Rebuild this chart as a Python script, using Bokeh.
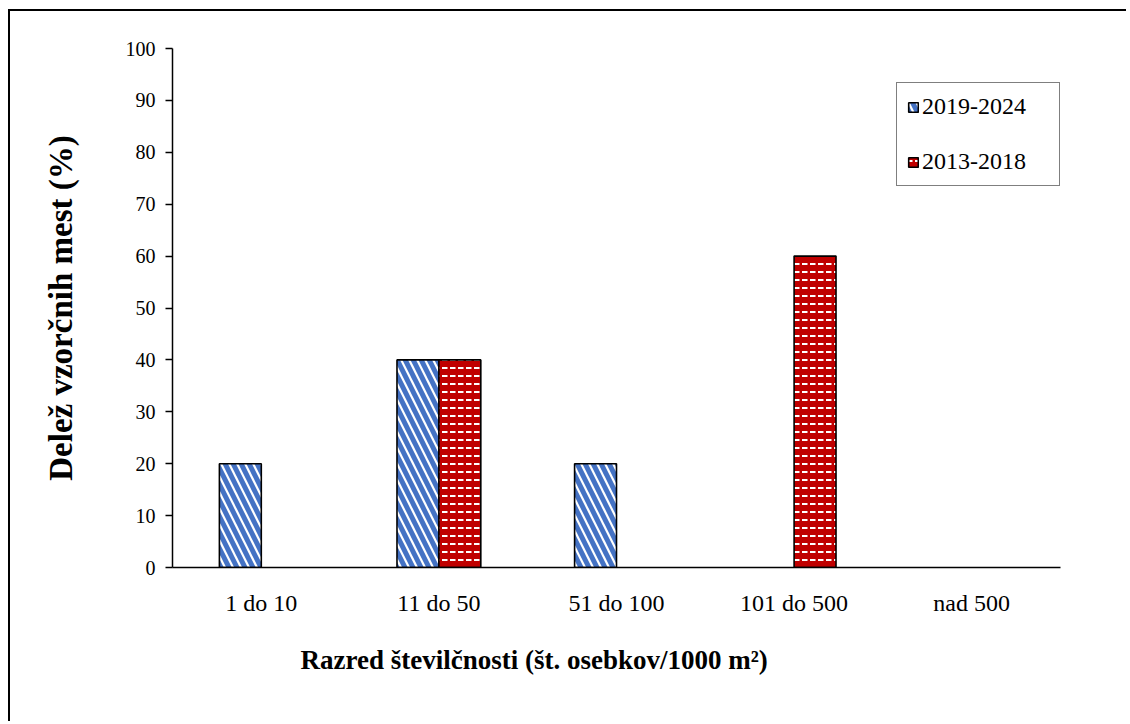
from bokeh.plotting import figure
from bokeh.models import FactorRange, ColumnDataSource, Legend, LegendItem, Title, FixedTicker
from bokeh.transform import dodge
from bokeh.embed import file_html
from bokeh.resources import INLINE

categories = ["1 do 10", "11 do 50", "51 do 100", "101 do 500", "nad 500"]
series_names = ["2019-2024", "2013-2018"]
values_2019_2024 = [20, 40, 20, 0, 0]
values_2013_2018 = [0, 40, 0, 60, 0]
y_ticks = [0, 10, 20, 30, 40, 50, 60, 70, 80, 90, 100]

FONT = "Liberation Serif"

p = figure(
    x_range=FactorRange(*categories), y_range=(0, 100),
    width=1118, height=712, output_backend="svg", toolbar_location=None,
    min_border_left=162, min_border_right=68, min_border_top=37, min_border_bottom=156,
)
p.x_range.range_padding = 0
p.outline_line_color = None
p.xgrid.grid_line_color = None
p.ygrid.grid_line_color = None
p.styles = {"margin-left": "8px", "margin-top": "9px",
            "border-left": "2px solid black", "border-top": "2px solid black"}


def nonzero(vals):
    cats = [c for c, v in zip(categories, vals) if v > 0]
    tops = [v for v in vals if v > 0]
    return ColumnDataSource(dict(cat=cats, top=tops))


bw = 0.236
r1 = p.vbar(x=dodge("cat", -bw / 2, range=p.x_range), top="top", width=bw,
            source=nonzero(values_2019_2024), fill_color="white",
            hatch_pattern="left_diagonal_line", hatch_color="#4472C4",
            hatch_scale=16, hatch_weight=5, line_color="black", line_width=1.6)
r2 = p.vbar(x=dodge("cat", bw / 2, range=p.x_range), top="top", width=bw,
            source=nonzero(values_2013_2018), fill_color="#C00000",
            hatch_pattern="horizontal_dash", hatch_color="white",
            hatch_scale=8, hatch_weight=2, line_color="black", line_width=1.6)

# axes
p.yaxis.ticker = FixedTicker(ticks=y_ticks)
p.yaxis.minor_tick_line_color = None
p.yaxis.major_tick_in = 0
p.yaxis.major_tick_out = 7
p.yaxis.major_tick_line_width = 1.5
p.yaxis.axis_line_width = 1.5
p.yaxis.major_label_standoff = 10
p.yaxis.major_label_text_font = FONT
p.yaxis.major_label_text_font_size = "20px"
p.yaxis.major_label_text_color = "black"
p.yaxis.axis_label = "Delež vzorčnih mest (%)"
p.yaxis.axis_label_text_font = FONT
p.yaxis.axis_label_text_font_size = "33px"
p.yaxis.axis_label_text_font_style = "bold"
p.yaxis.axis_label_text_color = "black"
p.yaxis.axis_label_standoff = 44

p.xaxis.major_tick_line_color = None
p.xaxis.minor_tick_line_color = None
p.xaxis.axis_line_width = 1.5
p.xaxis.major_label_standoff = 16
p.xaxis.major_label_text_font = FONT
p.xaxis.major_label_text_font_size = "24px"
p.xaxis.major_label_text_color = "black"

p.add_layout(Title(text="Razred številčnosti (št. osebkov/1000 m²)",
                   text_font=FONT, text_font_size="27px", text_font_style="bold",
                   text_color="black", align="left", offset=128, standoff=48),
             "below")

legend = Legend(items=[LegendItem(label=series_names[0], renderers=[r1]),
                       LegendItem(label=series_names[1], renderers=[r2])],
                location=(724, 381))
legend.label_text_font = FONT
legend.label_text_font_size = "24px"
legend.label_text_color = "black"
legend.glyph_width = 12
legend.glyph_height = 12
legend.label_standoff = 3
legend.padding = 10
legend.spacing = 28
legend.label_height = 24
legend.label_width = 127
legend.border_line_color = "black"
legend.border_line_width = 1.6
legend.background_fill_alpha = 1
p.add_layout(legend)

open("out.html", "w").write(file_html(p, INLINE))
